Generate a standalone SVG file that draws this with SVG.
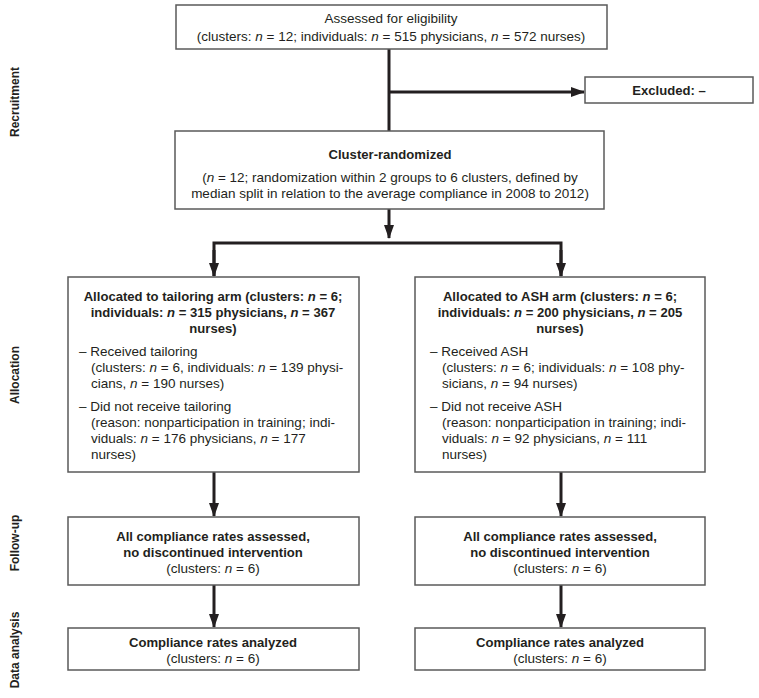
<svg xmlns="http://www.w3.org/2000/svg" width="759" height="698" viewBox="0 0 759 698">
<style>
text{font-family:"Liberation Sans",Arial,sans-serif;font-size:13.5px;fill:#231f20}
.b{font-weight:bold;font-size:13.1px}
.c{text-anchor:middle}
.i{font-style:italic}
.box{fill:#fff;stroke:#5a5a5a;stroke-width:1.5}
.con{fill:none;stroke:#231f20;stroke-width:3}
.side{font-weight:bold;text-anchor:middle;font-size:12px}
</style>
<defs>
<marker id="ah" markerUnits="userSpaceOnUse" markerWidth="14" markerHeight="10" refX="13" refY="5" orient="auto">
<path d="M0,0 L14,5 L0,10 Z" fill="#231f20"/>
</marker>
</defs>
<rect width="759" height="698" fill="#fff"/>
<g id="labels">
<text class="side" transform="translate(19,102) rotate(-90)">Recruitment</text>
<text class="side" transform="translate(19,375) rotate(-90)">Allocation</text>
<text class="side" transform="translate(19,543) rotate(-90)">Follow-up</text>
<text class="side" transform="translate(19,650) rotate(-90)">Data analysis</text>
</g>
<g id="connectors">
<path class="con" d="M389,49 V131"/>
<path class="con" d="M389,92 H584" marker-end="url(#ah)"/>
<path class="con" d="M389,209 V238" marker-end="url(#ah)"/>
<path class="con" d="M214,276 V243 H561 V276" />
<path class="con" d="M214,250 V276" marker-end="url(#ah)"/>
<path class="con" d="M561,250 V276" marker-end="url(#ah)"/>
<path class="con" d="M214,472 V516" marker-end="url(#ah)"/>
<path class="con" d="M561,472 V516" marker-end="url(#ah)"/>
<path class="con" d="M214,585 V627" marker-end="url(#ah)"/>
<path class="con" d="M561,585 V627" marker-end="url(#ah)"/>
</g>
<g id="assessed">
<rect class="box" x="176" y="5" width="431" height="44"/>
<text class="c" x="391" y="23">Assessed for eligibility</text>
<text class="c" x="391" y="41">(clusters: <tspan class="i">n</tspan> = 12; individuals: <tspan class="i">n</tspan> = 515 physicians, <tspan class="i">n</tspan> = 572 nurses)</text>
</g>
<g id="excluded">
<rect class="box" x="585" y="77" width="168" height="26"/>
<text class="c b" x="669" y="95">Excluded: –</text>
</g>
<g id="randomized">
<rect class="box" x="175" y="131" width="429" height="78"/>
<text class="c b" x="390" y="159">Cluster-randomized</text>
<text class="c" x="390" y="182">(<tspan class="i">n</tspan> = 12; randomization within 2 groups to 6 clusters, defined by</text>
<text class="c" x="390" y="198">median split in relation to the average compliance in 2008 to 2012)</text>
</g>
<g id="tailoring">
<rect class="box" x="68" y="277" width="291" height="195"/>
<text class="c b" x="213" y="301">Allocated to tailoring arm (clusters: <tspan class="i">n</tspan> = 6;</text>
<text class="c b" x="213" y="317">individuals: <tspan class="i">n</tspan> = 315 physicians, <tspan class="i">n</tspan> = 367</text>
<text class="c b" x="213" y="333">nurses)</text>
<text x="79" y="356">– Received tailoring</text>
<text x="91" y="372">(clusters: <tspan class="i">n</tspan> = 6, individuals: <tspan class="i">n</tspan> = 139 physi-</text>
<text x="91" y="388">cians, <tspan class="i">n</tspan> = 190 nurses)</text>
<text x="79" y="411">– Did not receive tailoring</text>
<text x="91" y="427">(reason: nonparticipation in training; indi-</text>
<text x="91" y="443">viduals: <tspan class="i">n</tspan> = 176 physicians, <tspan class="i">n</tspan> = 177</text>
<text x="91" y="459">nurses)</text>
</g>
<g id="ash">
<rect class="box" x="415" y="277" width="290" height="195"/>
<text class="c b" x="560" y="301">Allocated to ASH arm (clusters: <tspan class="i">n</tspan> = 6;</text>
<text class="c b" x="560" y="317">individuals: <tspan class="i">n</tspan> = 200 physicians, <tspan class="i">n</tspan> = 205</text>
<text class="c b" x="560" y="333">nurses)</text>
<text x="430" y="356">– Received ASH</text>
<text x="442" y="372">(clusters: <tspan class="i">n</tspan> = 6; individuals: <tspan class="i">n</tspan> = 108 phy-</text>
<text x="442" y="388">sicians, <tspan class="i">n</tspan> = 94 nurses)</text>
<text x="430" y="411">– Did not receive ASH</text>
<text x="442" y="427">(reason: nonparticipation in training; indi-</text>
<text x="442" y="443">viduals: <tspan class="i">n</tspan> = 92 physicians, <tspan class="i">n</tspan> = 111</text>
<text x="442" y="459">nurses)</text>
</g>
<g id="followup-left">
<rect class="box" x="68" y="517" width="291" height="68"/>
<text class="c b" x="213" y="541">All compliance rates assessed,</text>
<text class="c b" x="213" y="557">no discontinued intervention</text>
<text class="c" x="213" y="573">(clusters: <tspan class="i">n</tspan> = 6)</text>
</g>
<g id="followup-right">
<rect class="box" x="415" y="517" width="290" height="68"/>
<text class="c b" x="560" y="541">All compliance rates assessed,</text>
<text class="c b" x="560" y="557">no discontinued intervention</text>
<text class="c" x="560" y="573">(clusters: <tspan class="i">n</tspan> = 6)</text>
</g>
<g id="analysis-left">
<rect class="box" x="68" y="628" width="291" height="42"/>
<text class="c b" x="213" y="647">Compliance rates analyzed</text>
<text class="c" x="213" y="663">(clusters: <tspan class="i">n</tspan> = 6)</text>
</g>
<g id="analysis-right">
<rect class="box" x="415" y="628" width="290" height="42"/>
<text class="c b" x="560" y="647">Compliance rates analyzed</text>
<text class="c" x="560" y="663">(clusters: <tspan class="i">n</tspan> = 6)</text>
</g>
</svg>
